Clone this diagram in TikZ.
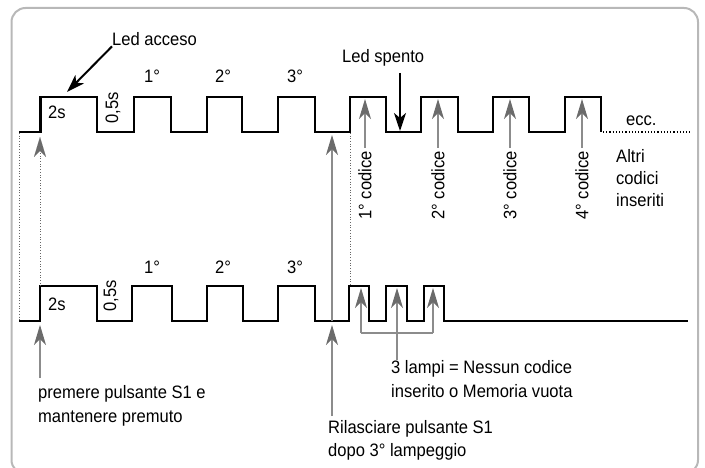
\documentclass[tikz,border=0pt]{standalone}
\usepackage{fontspec}
\setmainfont{Liberation Sans}[FakeStretch=0.92]
\usetikzlibrary{arrows.meta}
\begin{document}
\begin{tikzpicture}[x=1pt,y=-1pt,
  wave/.style={line width=2.5pt, line join=miter},
  lbl/.style={font=\fontsize{18}{22}\selectfont, inner sep=0pt},
  gtip/.style={-{Stealth[length=20pt,width=12pt,inset=6pt,color=black!58]}},
  garrow/.style={draw=black!45, line width=1.1pt, gtip},
  gline/.style={draw=black!45, line width=1.1pt},
  dots/.style={draw=black!60, line width=0.7pt, dotted},
  barrow/.style={draw=black, line width=2pt, -{Stealth[length=18pt,width=12pt,inset=5pt]}}]
\useasboundingbox (0,0) rectangle (705,468);
% frame
\draw[draw=black!28, line width=2pt, rounded corners=14pt] (11.5,8) rectangle (698,474);

% upper waveform
\draw[wave] (19,132) -- (40.5,132) -- (40.5,97) -- (97,97) -- (97,132) -- (134,132) -- (134,97)
  -- (171,97) -- (171,132) -- (207,132) -- (207,97) -- (242,97) -- (242,132) -- (278,132)
  -- (278,97) -- (315,97) -- (315,132) -- (350,132) -- (350,97) -- (386,97) -- (386,132)
  -- (421,132) -- (421,97) -- (458,97) -- (458,132) -- (493,132) -- (493,97) -- (529,97)
  -- (529,132) -- (565,132) -- (565,97) -- (601,97) -- (601,132);
\draw[draw=black, line width=1.2pt, dotted] (603,132) -- (690,132);

% lower waveform
\draw[wave] (19,321) -- (40,321) -- (40,286) -- (97,286) -- (97,321) -- (132,321) -- (132,286)
  -- (172,286) -- (172,321) -- (207,321) -- (207,286) -- (243,286) -- (243,321) -- (278,321)
  -- (278,286) -- (315,286) -- (315,321) -- (349,321) -- (349,286) -- (369,286) -- (369,321)
  -- (386,321) -- (386,286) -- (407,286) -- (407,321) -- (424,321) -- (424,286) -- (444,286)
  -- (444,321) -- (688,321);

% dotted guides
\draw[dots] (19,133) -- (19,320);
\draw[dots] (350,133) -- (350,285);

% labels on waveforms
\node[lbl, anchor=base west] (s2a) at (48,119) {2s};
\node[lbl, rotate=90] (h05a) at (113,108) {0,5s};
\node[lbl, anchor=base] (n1a) at (152,83) {1°};
\node[lbl, anchor=base] (n2a) at (223,83) {2°};
\node[lbl, anchor=base] (n3a) at (295,83) {3°};
\node[lbl, anchor=base west] (s2b) at (48,310) {2s};
\node[lbl, rotate=90] (h05b) at (111,296) {0,5s};
\node[lbl, anchor=base] (n1b) at (152,273) {1°};
\node[lbl, anchor=base] (n2b) at (223,273) {2°};
\node[lbl, anchor=base] (n3b) at (295,273) {3°};
\node[lbl, anchor=base west] (ecc) at (626,126) {ecc.};

% Led acceso / Led spento
\node[lbl, anchor=base west] (ledacc) at (112,46) {Led acceso};
\coordinate (accH) at (67,92);
\draw[barrow] (ledacc.south west) -- (accH);
\node[lbl, anchor=base west] (ledsp) at (342,63) {Led spento};
\coordinate (spT) at (400,73);
\coordinate (spH) at (400,131);
\draw[barrow] (spT) -- (spH);

% codes
\foreach \i/\x in {1/365,2/438,3/510,4/582}{
  \node[lbl, rotate=90, anchor=east] (cod\i) at (\x,151) {\i° codice};
  \coordinate (ct\i) at (\x,99);
  \draw[garrow, shorten <=3pt] (cod\i.east) -- (ct\i);
}
\node[lbl, anchor=base west] (alt1) at (616,163) {Altri};
\node[lbl, anchor=base west] (alt2) at (616,185) {codici};
\node[lbl, anchor=base west] (alt3) at (616,207) {inseriti};

% press arrows at x=40
\coordinate (pT) at (40,137);
\coordinate (pB) at (40,286);
\draw[dots] (pB) -- (40,150);
\draw[gtip, draw=black!45, line width=0.01pt] (40,152) -- (pT);
\node[lbl, anchor=base west] (prem1) at (38,398) {premere pulsante S1 e};
\node[lbl, anchor=base west] (prem2) at (38,422) {mantenere premuto};
\coordinate (pL) at (40,325);
\draw[garrow] (40,378) -- (pL);

% release arrows at x=332
\coordinate (rT) at (332,135);
\coordinate (rL) at (332,325);
\draw[garrow] (332,321) -- (rT);
\node[lbl, anchor=base west] (ril1) at (328,433) {Rilasciare pulsante S1};
\node[lbl, anchor=base west] (ril2) at (328,456) {dopo 3° lampeggio};
\draw[garrow] (332,416) -- (rL);

% three flashes
\foreach \i/\x in {1/361,2/397,3/433}{
  \coordinate (lt\i) at (\x,288);
  \coordinate (lb\i) at (\x,333);
  \draw[garrow] (lb\i) -- (lt\i);
}
\draw[gline] (lb1) -- (lb3);
\node[lbl, anchor=base west] (lam1) at (391,373) {3 lampi = Nessun codice};
\node[lbl, anchor=base west] (lam2) at (391,397) {inserito o Memoria vuota};
\draw[gline] (lb2) -- (lb2 |- lam1.north);
\end{tikzpicture}
\end{document}
